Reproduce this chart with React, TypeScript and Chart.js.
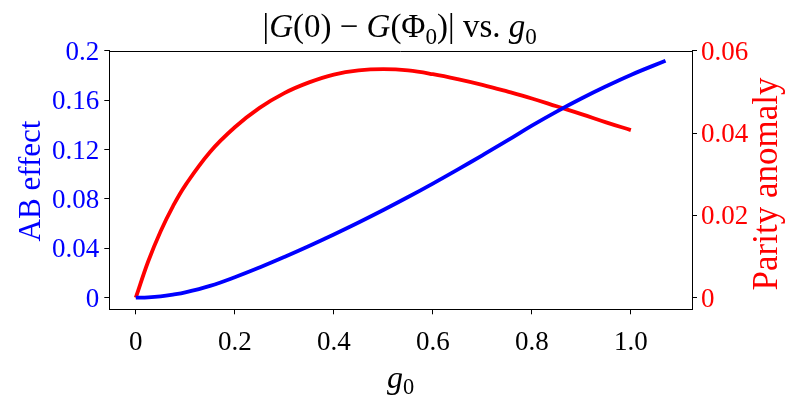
import React, { useEffect, useRef } from 'react';
import { Chart, registerables } from 'chart.js';

Chart.register(...registerables);

// ---- data ----
const xTickValues = [0, 0.2, 0.4, 0.6, 0.8, 1.0];
const xTickLabels = ['0', '0.2', '0.4', '0.6', '0.8', '1.0'];
const leftTickValues = [0, 0.04, 0.08, 0.12, 0.16, 0.2];
const leftTickLabels = ['0', '0.04', '0.08', '0.12', '0.16', '0.2'];
const rightTickValues = [0, 0.02, 0.04, 0.06];
const rightTickLabels = ['0', '0.02', '0.04', '0.06'];

const g0Blue = [0, 0.025, 0.05, 0.075, 0.1, 0.15, 0.2, 0.25, 0.3, 0.35, 0.4, 0.45, 0.5, 0.55, 0.6, 0.65, 0.7, 0.75, 0.8, 0.85, 0.9, 0.95, 1.0, 1.07];
const abEffect = [0, 0.0003, 0.0011, 0.0025, 0.0043, 0.0096, 0.0166, 0.0245, 0.033, 0.0419, 0.0512, 0.0609, 0.071, 0.0815, 0.0924, 0.1037, 0.1153, 0.1271, 0.1393, 0.1507, 0.1613, 0.1712, 0.1804, 0.1919];

const g0Red = [0, 0.025, 0.05, 0.075, 0.1, 0.15, 0.2, 0.25, 0.3, 0.35, 0.4, 0.45, 0.5, 0.55, 0.6, 0.65, 0.7, 0.75, 0.8, 0.85, 0.9, 0.95, 1.0];
const parityAnomaly = [0, 0.0088, 0.0161, 0.0222, 0.0273, 0.0354, 0.0414, 0.0461, 0.0497, 0.0523, 0.0542, 0.0552, 0.0555, 0.0552, 0.0543, 0.0531, 0.0517, 0.0501, 0.0484, 0.0465, 0.0446, 0.0426, 0.0407];

const BLUE = '#0000ff';
const RED = '#ff0000';
const SERIF = '"Liberation Serif", "DejaVu Serif", serif';

type Seg = { t: string; italic?: boolean; sub?: boolean };

function segFont(s: Seg, size: number) {
  const sz = s.sub ? size * 0.7 : size;
  return `${s.italic ? 'italic ' : ''}${sz}px ${SERIF}`;
}

function drawRich(ctx: CanvasRenderingContext2D, segs: Seg[], cx: number, baseline: number, size: number, color: string) {
  let total = 0;
  const widths = segs.map((s) => {
    ctx.font = segFont(s, size);
    const w = ctx.measureText(s.t).width;
    total += w;
    return w;
  });
  let x = cx - total / 2;
  ctx.fillStyle = color;
  ctx.textAlign = 'left';
  ctx.textBaseline = 'alphabetic';
  segs.forEach((s, i) => {
    ctx.font = segFont(s, size);
    ctx.fillText(s.t, x, baseline + (s.sub ? size * 0.2 : 0));
    x += widths[i];
  });
}

const textPlugin = {
  id: 'textPlugin',
  afterDraw(chart: any) {
    const ctx: CanvasRenderingContext2D = chart.ctx;
    const a = chart.chartArea;
    ctx.save();
    // top spine
    ctx.strokeStyle = '#000';
    ctx.lineWidth = 1;
    ctx.beginPath();
    ctx.moveTo(a.left, Math.round(a.top) + 0.5);
    ctx.lineTo(a.right, Math.round(a.top) + 0.5);
    ctx.stroke();

    const cx = (a.left + a.right) / 2;
    const cy = (a.top + a.bottom) / 2;
    // title
    drawRich(
      ctx,
      [
        { t: '|' },
        { t: 'G', italic: true },
        { t: '(0) \u2212 ' },
        { t: 'G', italic: true },
        { t: '(\u03A6' },
        { t: '0', sub: true },
        { t: ')| vs. ' },
        { t: 'g', italic: true },
        { t: '0', sub: true },
      ],
      cx - 1,
      37,
      33,
      '#000'
    );
    // x label
    drawRich(ctx, [{ t: 'g', italic: true }, { t: '0', sub: true }], cx, 388, 32, '#000');
    // left label
    ctx.save();
    ctx.translate(40, cy + 1);
    ctx.rotate(-Math.PI / 2);
    drawRich(ctx, [{ t: 'AB effect' }], 0, 0, 31, BLUE);
    ctx.restore();
    // right label
    ctx.save();
    ctx.translate(777, cy + 4);
    ctx.rotate(-Math.PI / 2);
    drawRich(ctx, [{ t: 'Parity anomaly' }], 0, 0, 35, RED);
    ctx.restore();
    ctx.restore();
  },
};

export default function App() {
  const ref = useRef<HTMLCanvasElement | null>(null);
  useEffect(() => {
    if (!ref.current) return;
    const chart = new Chart(ref.current, {
      type: 'line',
      data: {
        datasets: [
          {
            label: 'AB effect',
            data: g0Blue.map((x, i) => ({ x, y: abEffect[i] })),
            borderColor: BLUE,
            borderWidth: 3.8,
            pointRadius: 0,
            tension: 0.4,
            yAxisID: 'y',
            fill: false,
          },
          {
            label: 'Parity anomaly',
            data: g0Red.map((x, i) => ({ x, y: parityAnomaly[i] })),
            borderColor: RED,
            borderWidth: 3.8,
            pointRadius: 0,
            tension: 0.4,
            yAxisID: 'y1',
            fill: false,
          },
        ],
      },
      options: {
        animation: false,
        responsive: true,
        maintainAspectRatio: false,
        layout: { padding: { top: 50.7, left: 0, right: 0, bottom: 0 } },
        plugins: { legend: { display: false }, tooltip: { enabled: false }, title: { display: false } },
        scales: {
          x: {
            type: 'linear',
            min: -0.0535,
            max: 1.1235,
            afterFit: (s: any) => {
              s.height = 90.7;
            },
            afterBuildTicks: (s: any) => {
              s.ticks = xTickValues.map((v) => ({ value: v }));
            },
            ticks: {
              autoSkip: false,
              maxRotation: 0,
              color: '#000',
              font: { family: SERIF, size: 27 },
              padding: 12,
              callback: (_v: any, i: number) => xTickLabels[i],
            },
            grid: { drawOnChartArea: false, drawTicks: true, tickLength: 5, color: '#000' },
            border: { display: true, color: '#000', width: 1 },
          },
          y: {
            type: 'linear',
            position: 'left',
            min: -0.0094,
            max: 0.2,
            afterFit: (s: any) => {
              s.width = 109.3;
            },
            afterBuildTicks: (s: any) => {
              s.ticks = leftTickValues.map((v) => ({ value: v }));
            },
            ticks: {
              autoSkip: false,
              color: BLUE,
              font: { family: SERIF, size: 27 },
              padding: 5,
              labelOffset: 2,
              callback: (_v: any, i: number) => leftTickLabels[i],
            },
            grid: { drawOnChartArea: false, drawTicks: true, tickLength: 5, color: '#000' },
            border: { display: true, color: '#000', width: 1 },
          },
          y1: {
            type: 'linear',
            position: 'right',
            min: -0.00282,
            max: 0.06,
            afterFit: (s: any) => {
              s.width = 108;
            },
            afterBuildTicks: (s: any) => {
              s.ticks = rightTickValues.map((v) => ({ value: v }));
            },
            ticks: {
              autoSkip: false,
              color: RED,
              font: { family: SERIF, size: 27 },
              padding: 4,
              labelOffset: 2,
              callback: (_v: any, i: number) => rightTickLabels[i],
            },
            grid: { drawOnChartArea: false, drawTicks: true, tickLength: 5, color: '#000' },
            border: { display: true, color: '#000', width: 1 },
          },
        },
      },
      plugins: [textPlugin],
    });
    return () => chart.destroy();
  }, []);

  return (
    <div style={{ position: 'fixed', left: 0, top: 0, width: 800, height: 400, background: '#fff' }}>
      <canvas ref={ref} />
    </div>
  );
}
